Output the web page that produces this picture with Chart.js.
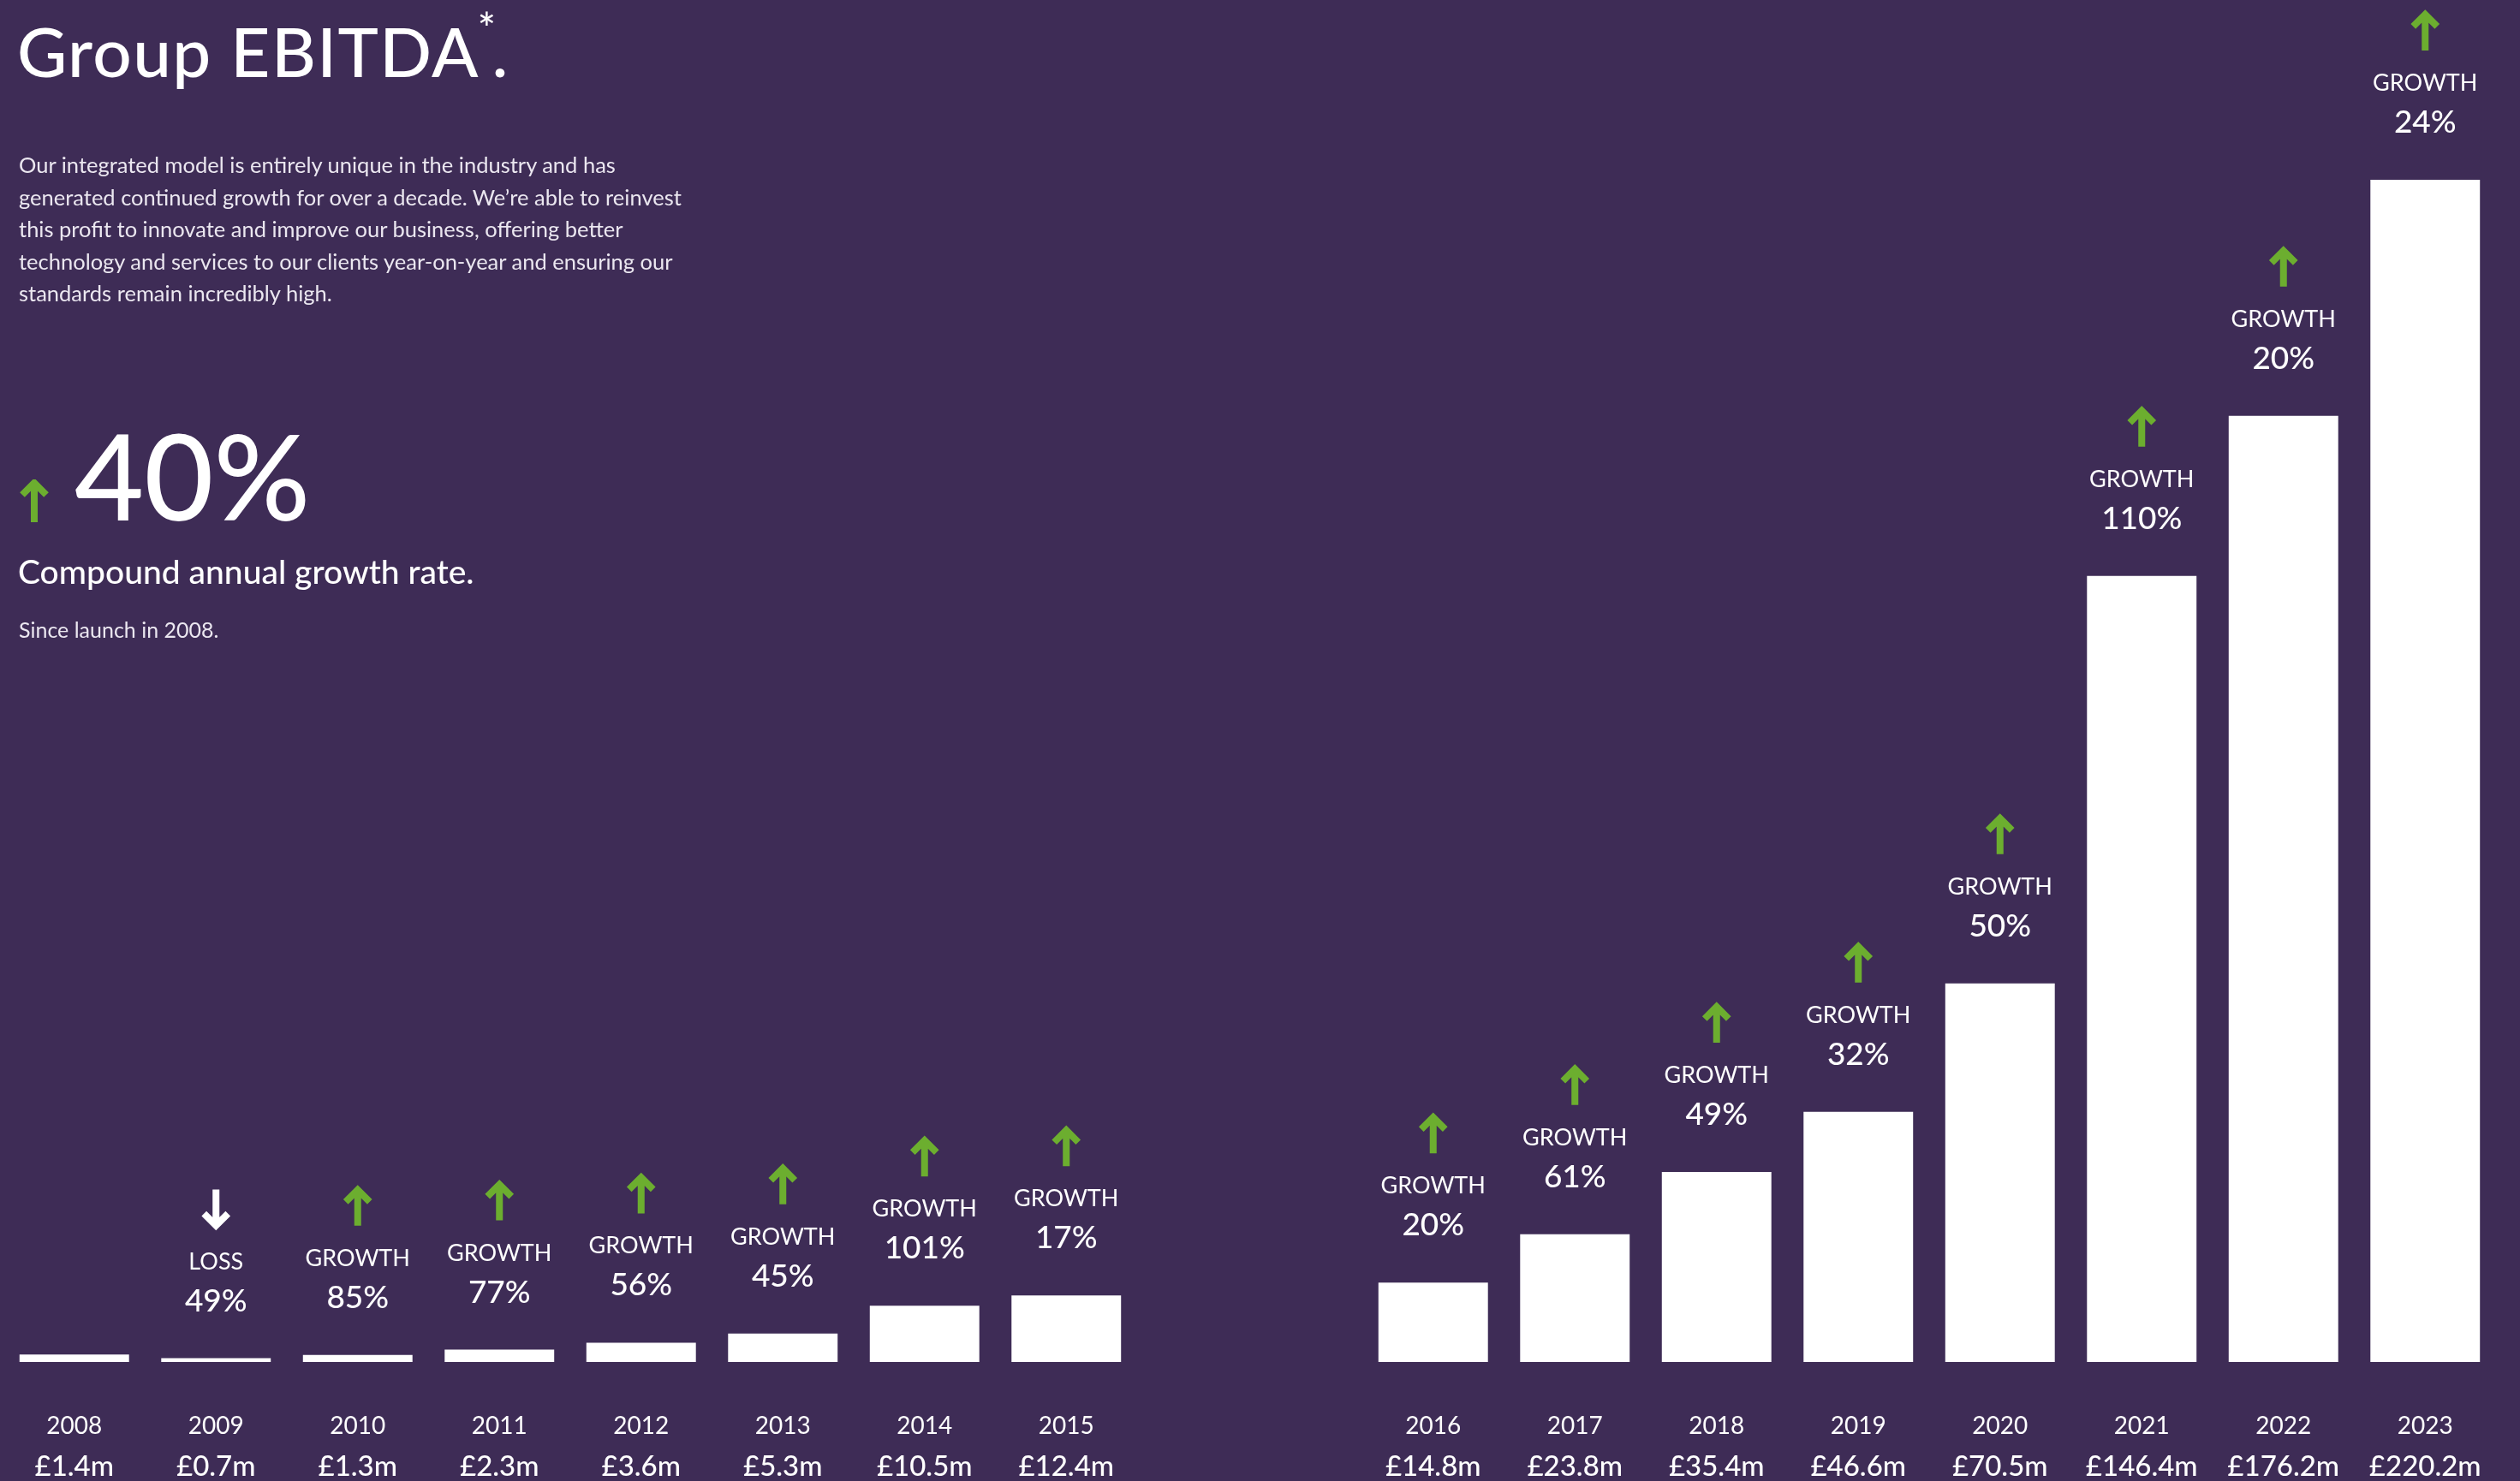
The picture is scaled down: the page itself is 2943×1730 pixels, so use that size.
<!DOCTYPE html>
<html>
<head>
<meta charset="utf-8">
<title>Group EBITDA</title>
<script src="https://cdn.jsdelivr.net/npm/chart.js@4.4.1/dist/chart.umd.min.js"></script>
<style>
  html, body { margin: 0; padding: 0; }
  body {
    width: 2943px; height: 1730px; overflow: hidden;
    background: #3e2c56; position: relative;
    font-family: Lato, "Noto Sans", sans-serif; color: #ffffff;
  }
  .txt { position: absolute; white-space: nowrap; z-index: 2; }
  #title { left: 20px; top: 19px; font-size: 80px; line-height: 80px; font-weight: 500; letter-spacing: 1.4px; }
  #title .ast { font-size: 50px; position: relative; top: -38px; margin-left: -2px; margin-right: -6px; }
  #intro { left: 22px; top: 174px; font-size: 25.5px; line-height: 37.5px; color: #ebe7f0; }
  #cagr { left: 87px; top: 484px; font-size: 140px; line-height: 140px; font-weight: 500; }
  #cagrArrow { position: absolute; left: 20px; top: 560px; z-index: 2; }
  #cagrLabel { left: 21px; top: 648px; font-size: 39px; line-height: 39px; font-weight: 500; }
  #since { left: 22px; top: 723px; font-size: 25px; line-height: 25px; color: #ebe7f0; }
  canvas { position: absolute; top: 0; z-index: 1; }
  #chartA { left: 4px; }
  #chartB { left: 1591px; }
</style>
</head>
<body>
<div id="title" class="txt">Group EBITDA<span class="ast">*</span>.</div>
<div id="intro" class="txt">Our integrated model is entirely unique in the industry and has<br>generated continued growth for over a decade. We’re able to reinvest<br>this profit to innovate and improve our business, offering better<br>technology and services to our clients year-on-year and ensuring our<br>standards remain incredibly high.</div>
<svg id="cagrArrow" width="40" height="50" viewBox="0 0 40 50">
  <path d="M20 50 V4 M6 18 L20 4 L34 18" stroke="#6cae2f" stroke-width="8" fill="none"/>
</svg>
<div id="cagr" class="txt">40%</div>
<div id="cagrLabel" class="txt">Compound annual growth rate.</div>
<div id="since" class="txt">Since launch in 2008.</div>

<canvas id="chartA" width="1324" height="1730"></canvas>
<canvas id="chartB" width="1324" height="1730"></canvas>

<script>
// Group EBITDA, £m, 2008-2023
const years = ['2008', '2009', '2010', '2011', '2012', '2013', '2014', '2015',
               '2016', '2017', '2018', '2019', '2020', '2021', '2022', '2023'];
const ebitda = [1.4, 0.7, 1.3, 2.3, 3.6, 5.3, 10.5, 12.4,
                14.8, 23.8, 35.4, 46.6, 70.5, 146.4, 176.2, 220.2];
// year-on-year change in %, negative = loss
const change = [null, -49, 85, 77, 56, 45, 101, 17,
                20, 61, 49, 32, 50, 110, 20, 24];
const splitAt = 8; // the axis break sits between 2015 and 2016

const green = '#6cae2f';

function drawArrow(ctx, cx, top, up, color) {
    const h = 46, wing = 14;
    ctx.save();
    ctx.strokeStyle = color;
    ctx.lineWidth = 8;
    ctx.lineCap = 'butt';
    ctx.lineJoin = 'miter';
    ctx.beginPath();
    if (up) {
        ctx.moveTo(cx, top + h);
        ctx.lineTo(cx, top + 4);
        ctx.moveTo(cx - wing, top + 4 + wing);
        ctx.lineTo(cx, top + 4);
        ctx.lineTo(cx + wing, top + 4 + wing);
    } else {
        ctx.moveTo(cx, top);
        ctx.lineTo(cx, top + h - 4);
        ctx.moveTo(cx - wing, top + h - 4 - wing);
        ctx.lineTo(cx, top + h - 4);
        ctx.lineTo(cx + wing, top + h - 4 - wing);
    }
    ctx.stroke();
    ctx.restore();
}

// labels above and below every bar
const barLabels = {
    id: 'barLabels',
    afterDatasetsDraw(chart, args, opts) {
        const ctx = chart.ctx;
        const meta = chart.getDatasetMeta(0);
        const xScale = chart.scales.x;
        const values = chart.data.datasets[0].data;
        ctx.save();
        ctx.textAlign = 'center';
        ctx.textBaseline = 'alphabetic';
        ctx.fillStyle = '#ffffff';
        meta.data.forEach(function(bar, i) {
            const x = xScale.getPixelForValue(i);
            const top = bar.y;
            const pct = opts.changes[i];

            ctx.font = '400 28px Lato';
            ctx.fillText(chart.data.labels[i], x, 1675);
            ctx.font = '500 33px Lato';
            ctx.fillText('£' + values[i].toFixed(1) + 'm', x, 1724);

            if (pct === null) return;
            ctx.font = '500 37px Lato';
            ctx.fillText(Math.abs(pct) + '%', x, top - 55);
            ctx.font = '400 27px Lato';
            ctx.fillText(pct < 0 ? 'LOSS' : 'GROWTH', x, top - 104);
            drawArrow(ctx, x, top - 197, pct >= 0, pct >= 0 ? green : '#ffffff');
        });
        ctx.restore();
    }
};

function makeChart(id, from, to) {
    const ctx = document.getElementById(id).getContext('2d');
    return new Chart(ctx, {
        type: 'bar',
        data: {
            labels: years.slice(from, to),
            datasets: [{
                data: ebitda.slice(from, to),
                backgroundColor: '#ffffff',
                borderWidth: 0,
                categoryPercentage: 1,
                barPercentage: 0.773
            }]
        },
        options: {
            responsive: false,
            animation: false,
            devicePixelRatio: 1,
            layout: { padding: { top: 23, bottom: 139, left: 0, right: 0 } },
            plugins: {
                legend: { display: false },
                tooltip: { enabled: false },
                barLabels: { changes: change.slice(from, to) }
            },
            scales: {
                x: { display: false, offset: true },
                y: { display: false, min: 0, max: 250 }
            }
        },
        plugins: [barLabels]
    });
}

let leftChart = null;
let rightChart = null;
document.fonts.load('400 28px Lato').then(function() {
    return document.fonts.load('500 33px Lato');
}).finally(function() {
    leftChart = makeChart('chartA', 0, splitAt);
    rightChart = makeChart('chartB', splitAt, years.length);
});
</script>
</body>
</html>
